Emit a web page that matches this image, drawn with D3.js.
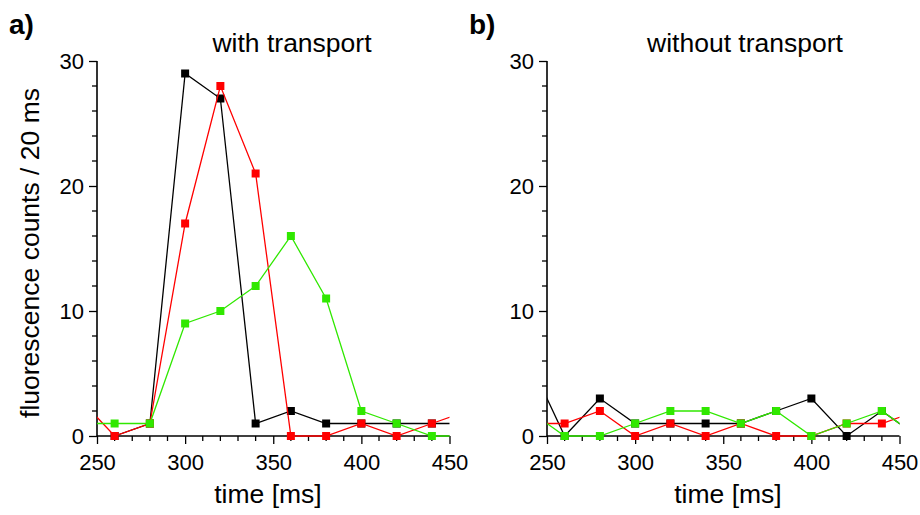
<!DOCTYPE html>
<html>
<head>
<meta charset="utf-8">
<script src="https://cdn.jsdelivr.net/npm/d3@7"></script>
<style>
  html, body { margin: 0; padding: 0; background: #fff; }
  svg { display: block; font-family: "Liberation Sans", Arial, sans-serif; }
</style>
</head>
<body>
<svg id="chart" width="920" height="515"></svg>
<script>
// Time bins (ms); first and last bins lie just outside the visible axis range
const times = [240, 260, 280, 300, 320, 340, 360, 380, 400, 420, 440, 460];

// Panel a: with transport
const withBlack = [null, 0, 1, 29, 27, 1, 2, 1, 1, 1, 1, 1];
const withRed   = [3, 0, 1, 17, 28, 21, 0, 0, 1, 0, 1, 2];
const withGreen = [1, 1, 1, 9, 10, 12, 16, 11, 2, 1, 0, 0];

// Panel b: without transport
const withoutBlack = [6, 0, 3, 1, 1, 1, 1, 2, 3, 0, 2, 0];
const withoutRed   = [1, 1, 2, 0, 1, 0, 1, 0, 0, 1, 1, 2];
const withoutGreen = [2, 0, 0, 1, 2, 2, 1, 2, 0, 1, 2, 0];

const xTicks = [250, 300, 350, 400, 450];
const yTicks = [0, 10, 20, 30];
const panelTitles = ["with transport", "without transport"];
const panelLabels = ["a)", "b)"];
const xTitle = "time [ms]";
const yTitle = "fluorescence counts / 20 ms";
const seriesColors = ["#000000", "#ff0000", "#30e800"];

const svg = d3.select("#chart");

const panels = [
  { left: 97, right: 449.5, titleX: 292, xTitleX: 268, letterX: 9,
    series: [withBlack, withRed, withGreen] },
  { left: 547, right: 899.5, titleX: 745, xTitleX: 728, letterX: 469,
    series: [withoutBlack, withoutRed, withoutGreen] }
];
const plotTop = 61, plotBottom = 436;

panels.forEach((p, i) => {
  const x = d3.scaleLinear().domain([250, 450]).range([p.left, p.right]);
  const y = d3.scaleLinear().domain([0, 30]).range([plotBottom, plotTop]);
  const g = svg.append("g");

  const clipId = "clip" + i;
  svg.append("clipPath").attr("id", clipId)
    .append("rect")
    .attr("x", p.left).attr("y", plotTop - 10)
    .attr("width", p.right - p.left).attr("height", plotBottom - plotTop + 20);

  // minor ticks
  const xMinor = d3.range(250, 451, 10).filter(v => v % 50 !== 0);
  const yMinor = d3.range(0, 31, 2).filter(v => v % 10 !== 0);

  const xAxis = g.append("g").attr("transform", `translate(0,${plotBottom})`)
    .call(d3.axisBottom(x).tickValues(xTicks).tickFormat(d3.format("d")).tickSize(8).tickPadding(10));
  xAxis.append("g").selectAll("line").data(xMinor).join("line")
    .attr("x1", d => x(d)).attr("x2", d => x(d)).attr("y1", 0).attr("y2", 5)
    .attr("stroke", "#000").attr("stroke-width", 1.3);

  const yAxis = g.append("g").attr("transform", `translate(${p.left},0)`)
    .call(d3.axisLeft(y).tickValues(yTicks).tickSize(8).tickPadding(5));
  yAxis.append("g").selectAll("line").data(yMinor).join("line")
    .attr("y1", d => y(d)).attr("y2", d => y(d)).attr("x1", 0).attr("x2", -5)
    .attr("stroke", "#000").attr("stroke-width", 1.3);

  [xAxis, yAxis].forEach(a => {
    a.select(".domain").attr("stroke-width", 1.6);
    a.selectAll(".tick line").attr("stroke-width", 1.3);
    a.selectAll("text").attr("font-size", 22).attr("fill", "#000")
      .attr("font-family", "Liberation Sans, Arial, sans-serif");
  });
  // plain axis lines without end stubs
  xAxis.select(".domain").attr("d", `M${p.left},0H${p.right}`);
  yAxis.select(".domain").attr("d", `M0,${plotBottom}V${plotTop}`);

  const line = d3.line()
    .defined(d => d[1] !== null)
    .x(d => x(d[0])).y(d => y(d[1]));

  p.series.forEach((vals, k) => {
    const pts = times.map((t, j) => [t, vals[j]]);
    const sg = g.append("g");
    sg.append("path").datum(pts)
      .attr("clip-path", `url(#${clipId})`)
      .attr("fill", "none").attr("stroke", seriesColors[k]).attr("stroke-width", 1.3)
      .attr("d", line);
    sg.selectAll("rect").data(pts.filter(d => d[1] !== null && d[0] >= 250 && d[0] <= 450))
      .join("rect")
      .attr("x", d => x(d[0]) - 4).attr("y", d => y(d[1]) - 4)
      .attr("width", 8).attr("height", 8)
      .attr("fill", seriesColors[k]);
  });

  // panel title
  svg.append("text").attr("x", p.titleX).attr("y", 52)
    .attr("text-anchor", "middle").attr("font-size", 26.5).text(panelTitles[i]);
  // x axis title
  svg.append("text").attr("x", p.xTitleX).attr("y", 503)
    .attr("text-anchor", "middle").attr("font-size", 26.5).text(xTitle);
  // panel letter
  svg.append("text").attr("x", p.letterX).attr("y", 34)
    .attr("font-size", 28).attr("font-weight", "bold").text(panelLabels[i]);
});

// shared y axis title
svg.append("text")
  .attr("transform", "translate(39,253) rotate(-90)")
  .attr("text-anchor", "middle").attr("font-size", 26.5).text(yTitle);
</script>
</body>
</html>
